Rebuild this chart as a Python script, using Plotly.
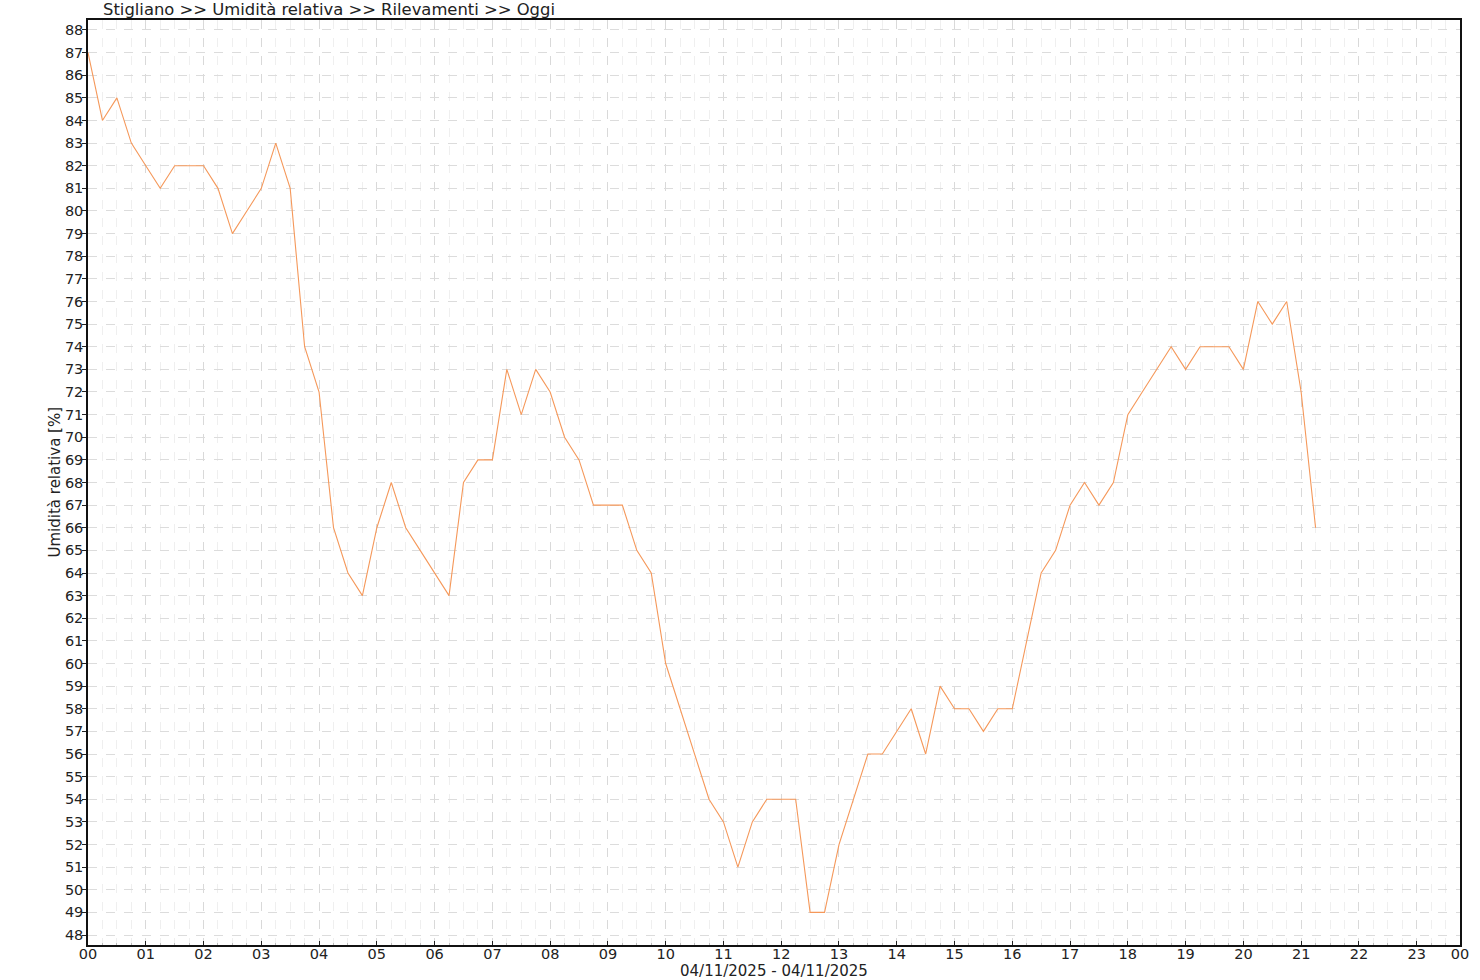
import plotly.graph_objects as go

# 15-minute readings from 00:00 to 21:15
times = [
    "00:00","00:15","00:30","00:45","01:00","01:15","01:30","01:45",
    "02:00","02:15","02:30","02:45","03:00","03:15","03:30","03:45",
    "04:00","04:15","04:30","04:45","05:00","05:15","05:30","05:45",
    "06:00","06:15","06:30","06:45","07:00","07:15","07:30","07:45",
    "08:00","08:15","08:30","08:45","09:00","09:15","09:30","09:45",
    "10:00","10:15","10:30","10:45","11:00","11:15","11:30","11:45",
    "12:00","12:15","12:30","12:45","13:00","13:15","13:30","13:45",
    "14:00","14:15","14:30","14:45","15:00","15:15","15:30","15:45",
    "16:00","16:15","16:30","16:45","17:00","17:15","17:30","17:45",
    "18:00","18:15","18:30","18:45","19:00","19:15","19:30","19:45",
    "20:00","20:15","20:30","20:45","21:00","21:15",
]
humidity = [
    87, 84, 85, 83, 82, 81, 82, 82,
    82, 81, 79, 80, 81, 83, 81, 74,
    72, 66, 64, 63, 66, 68, 66, 65,
    64, 63, 68, 69, 69, 73, 71, 73,
    72, 70, 69, 67, 67, 67, 65, 64,
    60, 58, 56, 54, 53, 51, 53, 54,
    54, 54, 49, 49, 52, 54, 56, 56,
    57, 58, 56, 59, 58, 58, 57, 58,
    58, 61, 64, 65, 67, 68, 67, 68,
    71, 72, 73, 74, 73, 74, 74, 74,
    73, 76, 75, 76, 72, 66,
]
hour_labels = ["00","01","02","03","04","05","06","07","08","09","10","11",
               "12","13","14","15","16","17","18","19","20","21","22","23","00"]
y_ticks = list(range(48, 89))

title_text = "Stigliano >> Umidità relativa >> Rilevamenti >> Oggi"
y_title = "Umidità relativa [%]"
x_title = "04/11/2025 - 04/11/2025"

def to_hours(t):
    h, m = t.split(":")
    return int(h) + int(m) / 60.0

x_vals = [to_hours(t) for t in times]
x_end = 23.75
tick_positions = list(range(0, 24)) + [x_end]

FONT = "DejaVu Sans"
TXT = "#222"
FS = 16.4   # chart title size
XFS = 15    # x-axis title size
TFS = 14.5  # tick label size

fig = go.Figure()
fig.add_trace(go.Scatter(
    x=x_vals, y=humidity, mode="lines",
    line=dict(color="#F5985A", width=1.1),
    showlegend=False, hoverinfo="x+y",
))

fig.update_layout(
    width=1480, height=980,
    margin=dict(l=88, r=20, t=20, b=35),
    plot_bgcolor="white", paper_bgcolor="white",
    font=dict(family=FONT, size=FS, color=TXT),
    annotations=[
        dict(text=title_text, xref="paper", yref="paper",
             x=(101 - 88) / 1372, y=1, xanchor="left", yanchor="middle",
             yshift=11, showarrow=False,
             font=dict(family=FONT, size=FS, color=TXT)),
        dict(text=y_title, xref="paper", yref="paper",
             x=0, y=0.5, xanchor="center", yanchor="middle",
             xshift=-34, textangle=-90, showarrow=False,
             font=dict(family=FONT, size=15, color=TXT)),
        dict(text=x_title, xref="paper", yref="paper",
             x=0.5, y=0, xanchor="center", yanchor="middle",
             yshift=-26, showarrow=False,
             font=dict(family=FONT, size=XFS, color=TXT)),
    ],
)

fig.update_xaxes(
    range=[0, x_end], automargin=False,
    tickmode="array", tickvals=tick_positions, ticktext=hour_labels,
    ticks="inside", ticklen=4, tickcolor=TXT,
    ticklabelstandoff=-5,
    showline=True, linecolor="#111", linewidth=1.5, mirror=True,
    showgrid=True, gridcolor="#d9d9d9", griddash="dash", gridwidth=1,
    zeroline=False,
    tickfont=dict(family=FONT, size=TFS, color=TXT),
    minor=dict(tickmode="linear", tick0=0, dtick=0.25,
               showgrid=True, gridcolor="#efefef", griddash="dash",
               ticks="inside", ticklen=2, tickcolor="#bbb"),
)

fig.update_yaxes(
    range=[47.56, 88.44], automargin=False,
    tickmode="array", tickvals=y_ticks, ticktext=[str(v) for v in y_ticks],
    ticks="outside", ticklen=4, tickcolor=TXT,
    ticklabelstandoff=-4,
    showline=True, linecolor="#111", linewidth=1.5, mirror=True,
    showgrid=True, gridcolor="#dcdcdc", griddash="dash", gridwidth=1,
    zeroline=False,
    tickfont=dict(family=FONT, size=TFS, color=TXT),
)

# remove the browser's default 8px body margin so the figure sits at (0,0)
fig.write_html("out.html",
               config={"displayModeBar": False},
               post_script="document.body.style.margin='0';")
